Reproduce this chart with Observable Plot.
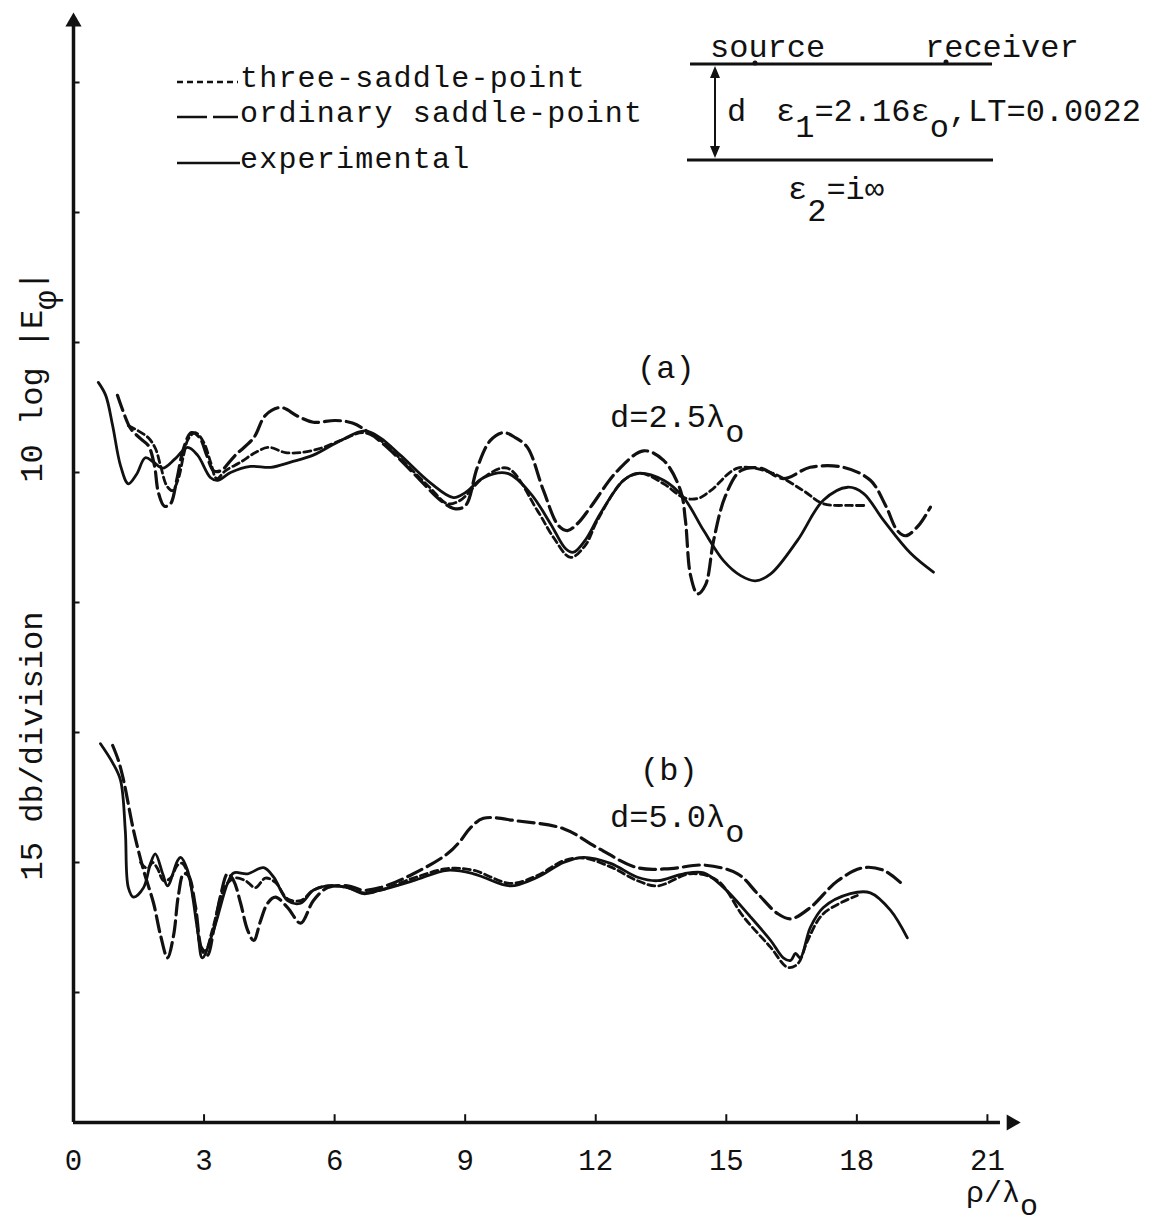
<!DOCTYPE html>
<html><head><meta charset="utf-8">
<script src="https://cdn.jsdelivr.net/npm/d3@7"></script>
<script src="https://cdn.jsdelivr.net/npm/@observablehq/plot@0.6"></script>
<style>body{margin:0;background:#fff;} svg{display:block}</style>
</head><body><div id="chart"></div>
<script>
// x: rho/lambda_o ; y: 10 log|E_phi| in dB (15 dB per division, arbitrary zero at x axis)
const xTicks = [0, 3, 6, 9, 12, 15, 18, 21];
const yTicks = [15, 30, 45, 60, 75, 90, 105, 120];
const seriesNames = ["three-saddle-point", "ordinary saddle-point", "experimental"];

// ---- panel (a) d = 2.5 lambda_o ----
const aExperimental = [[0.57,85.4],[0.74,83.9],[0.90,80.4],[1.08,75.8],[1.26,73.7],[1.45,74.8],[1.65,76.7],[1.84,76.2],[2.05,75.5],[2.34,76.6],[2.62,77.9],[2.85,77.0],[3.15,74.4],[3.31,74.1],[3.61,75.0],[4.07,75.7],[4.53,75.6],[4.99,76.2],[5.51,77.0],[6.14,78.7],[6.69,79.8],[7.05,79.0],[7.51,77.0],[8.20,73.8],[8.73,72.1],[9.01,72.7],[9.42,74.4],[9.97,74.9],[10.50,72.6],[10.96,69.1],[11.31,66.2],[11.49,65.8],[11.76,67.2],[12.11,70.3],[12.64,74.1],[12.96,74.9],[13.56,74.1],[14.02,72.1],[14.48,68.3],[14.94,64.8],[15.33,63.1],[15.67,62.5],[16.02,63.3],[16.64,67.2],[17.23,71.8],[17.79,73.3],[18.15,72.6],[18.61,69.5],[19.23,65.7],[19.76,63.5]];
const aOrdinary = [[1.01,83.9],[1.13,82.2],[1.31,80.1],[1.54,78.9],[1.72,78.1],[1.86,75.8],[1.95,72.7],[2.09,71.1],[2.23,71.4],[2.37,74.1],[2.53,77.8],[2.71,79.6],[2.90,79.0],[3.06,77.0],[3.22,75.2],[3.38,75.2],[3.72,77.0],[4.14,79.0],[4.41,81.6],[4.76,82.5],[5.15,81.5],[5.51,80.8],[6.02,81.0],[6.41,80.7],[6.82,79.5],[7.40,77.0],[7.97,74.1],[8.43,71.8],[8.78,70.8],[9.01,71.2],[9.28,75.6],[9.58,78.7],[9.88,79.6],[10.16,79.0],[10.43,77.9],[10.80,72.9],[11.14,68.9],[11.35,68.3],[11.60,69.2],[11.88,71.0],[12.50,75.2],[13.10,77.5],[13.56,76.4],[13.95,72.9],[14.06,69.5],[14.18,63.1],[14.34,61.0],[14.52,62.0],[14.71,67.2],[14.98,72.3],[15.33,75.2],[15.79,75.5],[16.31,74.3],[16.93,75.6],[17.69,75.6],[18.31,74.1],[18.66,71.2],[18.93,68.3],[19.12,67.7],[19.42,68.9],[19.69,71.0]];
const aThree = [[1.26,80.4],[1.49,79.8],[1.72,79.0],[1.88,77.8],[2.00,75.8],[2.14,73.5],[2.27,72.9],[2.41,74.3],[2.53,77.0],[2.64,78.9],[2.80,79.6],[2.99,78.5],[3.15,76.2],[3.29,74.3],[3.49,75.2],[3.84,76.2],[4.18,77.3],[4.48,77.9],[4.87,77.3],[5.22,77.3],[5.68,77.8],[6.14,78.7],[6.66,79.6],[7.05,78.7],[7.51,76.6],[8.20,73.2],[8.59,71.4],[8.89,71.8],[9.42,74.4],[9.97,75.5],[10.66,70.6],[11.03,67.5],[11.42,65.2],[11.76,66.6],[12.04,69.5],[12.64,74.1],[13.03,74.9],[13.56,73.7],[14.02,72.1],[14.34,72.0],[14.64,72.9],[15.26,75.5],[16.02,75.0],[16.77,72.9],[17.23,71.4],[17.85,71.2],[18.24,71.2]];

// ---- panel (b) d = 5.0 lambda_o ----
const bExperimental = [[0.62,43.7],[0.90,41.5],[1.08,39.5],[1.19,33.7],[1.26,27.1],[1.38,26.0],[1.61,27.1],[1.77,29.9],[1.88,31.0],[2.05,28.7],[2.16,27.3],[2.39,30.2],[2.46,30.6],[2.62,29.1],[2.85,22.2],[2.96,19.0],[3.22,22.2],[3.54,27.6],[3.68,28.8],[4.00,28.7],[4.37,29.4],[4.60,28.3],[4.92,25.6],[5.22,25.3],[5.51,26.8],[5.84,27.3],[6.30,27.1],[6.66,26.4],[7.05,26.8],[7.81,27.9],[8.59,29.1],[9.19,28.7],[9.42,28.3],[10.04,27.3],[10.66,28.3],[11.26,30.0],[11.72,30.6],[12.34,29.9],[12.96,28.3],[13.42,27.9],[14.02,28.7],[14.48,28.8],[14.94,27.1],[15.56,23.7],[16.02,21.0],[16.31,19.0],[16.48,18.7],[16.59,19.5],[16.70,19.0],[16.93,22.5],[17.23,24.8],[17.85,26.4],[18.31,26.5],[18.77,24.5],[19.16,21.3]];
const bOrdinary = [[0.90,43.5],[1.03,41.8],[1.15,39.5],[1.38,33.7],[1.61,29.1],[1.84,25.3],[2.00,21.6],[2.16,19.0],[2.30,21.6],[2.41,26.2],[2.53,28.7],[2.64,28.5],[2.80,25.0],[2.96,19.8],[3.08,19.3],[3.22,22.2],[3.38,26.2],[3.54,28.7],[3.68,27.9],[3.84,25.3],[4.00,22.2],[4.14,21.0],[4.30,23.3],[4.46,25.3],[4.64,26.0],[4.92,24.8],[5.22,23.0],[5.51,25.6],[5.84,27.1],[6.30,27.3],[6.66,26.8],[7.05,27.1],[7.81,28.7],[8.59,31.0],[8.89,32.5],[9.12,34.0],[9.42,35.1],[10.20,34.8],[11.26,33.9],[12.04,31.7],[12.96,29.4],[13.72,29.3],[14.48,29.7],[15.26,28.7],[15.72,26.4],[16.18,24.1],[16.48,23.5],[16.93,24.8],[17.56,27.9],[18.15,29.4],[18.61,29.1],[19.00,27.7]];
const bThree = [[1.54,30.0],[1.70,29.3],[1.82,30.0],[1.93,29.3],[2.07,27.9],[2.23,28.2],[2.39,29.7],[2.50,29.9],[2.64,28.5],[2.80,24.5],[2.92,20.4],[3.03,19.8],[3.19,22.2],[3.49,27.3],[3.72,28.2],[3.95,27.9],[4.18,27.1],[4.41,28.2],[4.64,27.7],[4.92,25.8],[5.22,25.6],[5.51,26.8],[5.84,27.3],[6.30,27.1],[6.66,26.5],[7.05,26.8],[7.81,28.2],[8.59,29.3],[9.19,29.1],[10.04,27.6],[10.66,28.5],[11.26,30.2],[11.72,30.5],[12.34,29.5],[12.96,27.9],[13.42,27.3],[14.18,28.7],[14.80,27.9],[15.40,23.7],[16.02,20.2],[16.41,17.9],[16.64,18.3],[16.87,21.0],[17.23,24.1],[18.01,26.2]];

const FONT = "'Liberation Mono', 'Courier New', monospace";
const rows = [];
function add(panel, series, pts) { pts.forEach(([x, y]) => rows.push({panel, series, x, y})); }
add("a", seriesNames[2], aExperimental); add("a", seriesNames[1], aOrdinary); add("a", seriesNames[0], aThree);
add("b", seriesNames[2], bExperimental); add("b", seriesNames[1], bOrdinary); add("b", seriesNames[0], bThree);
const bySeries = s => rows.filter(r => r.series === s);

const plot = Plot.plot({
  width: 1171, height: 1224,
  marginLeft: 73, marginRight: 10, marginTop: 4, marginBottom: 102,
  x: {domain: [0, 25], axis: null},
  y: {domain: [0, 129], axis: null},
  style: {fontFamily: FONT, background: "white"},
  marks: [
    Plot.line(bySeries(seriesNames[2]), {x: "x", y: "y", z: "panel", curve: "catmull-rom", stroke: "#111", strokeWidth: 2.8}),
    Plot.line(bySeries(seriesNames[1]), {x: "x", y: "y", z: "panel", curve: "catmull-rom", stroke: "#111", strokeWidth: 3.2, strokeDasharray: "16,6"}),
    Plot.line(bySeries(seriesNames[0]), {x: "x", y: "y", z: "panel", curve: "catmull-rom", stroke: "#111", strokeWidth: 2.8, strokeDasharray: "7,4"}),
    // axes
    Plot.ruleX([0], {y1: 0, y2: 126.5, stroke: "#111", strokeWidth: 3.5}),
    Plot.ruleY([0], {x1: 0, x2: 21.3, stroke: "#111", strokeWidth: 3.5}),
    Plot.dot([[0, 127]], {x: d => d[0], y: d => d[1], symbol: "triangle", r: 6, fill: "#111", stroke: "none"}),
    Plot.dot([[21.55, 0]], {x: d => d[0], y: d => d[1], symbol: "triangle", r: 6, fill: "#111", stroke: "none", rotate: 90}),
    Plot.ruleY(yTicks, {x1: 0, x2: 0.15, stroke: "#111", strokeWidth: 2}),
    Plot.ruleX(xTicks.slice(1), {y1: 0, y2: 0.9, stroke: "#111", strokeWidth: 2}),
    Plot.text(xTicks, {x: d => d, y: 0, dy: 38, text: d => String(d), fontSize: 29, fill: "#111", fontFamily: FONT})
  ]
});
document.getElementById("chart").appendChild(plot);

// ---- annotations (legend, schematic, labels) ----
const svg = d3.select(plot);
const g = svg.append("g").attr("font-family", FONT).attr("font-size", 32).attr("fill", "#111").attr("text-anchor", "start");
function label(x, y, parts, attrs = {}) {
  const t = g.append("text").attr("x", x).attr("y", y).attr("text-anchor", "start");
  Object.entries(attrs).forEach(([k, v]) => t.attr(k, v));
  let shift = 0;
  parts.forEach(p => {
    const [s, sub] = Array.isArray(p) ? p : [p, 0];
    t.append("tspan").attr("dy", sub - shift).text(s);
    shift = sub;
  });
  return t;
}
// legend
g.append("line").attr("x1", 177).attr("x2", 238).attr("y1", 82).attr("y2", 82).attr("stroke", "#111").attr("stroke-width", 2.4).attr("stroke-dasharray", "6,4");
g.append("line").attr("x1", 177).attr("x2", 238).attr("y1", 117).attr("y2", 117).attr("stroke", "#111").attr("stroke-width", 2.6).attr("stroke-dasharray", "30,6");
g.append("line").attr("x1", 177).attr("x2", 240).attr("y1", 163).attr("y2", 163).attr("stroke", "#111").attr("stroke-width", 2.4);
const legendAttrs = {"font-size": 30, "letter-spacing": 1.2};
label(240, 87, [seriesNames[0]], legendAttrs);
label(240, 122, [seriesNames[1]], legendAttrs);
label(240, 168, [seriesNames[2]], legendAttrs);
// schematic
g.append("line").attr("x1", 690).attr("x2", 992).attr("y1", 64).attr("y2", 64).attr("stroke", "#111").attr("stroke-width", 3);
g.append("line").attr("x1", 687).attr("x2", 993).attr("y1", 160).attr("y2", 160).attr("stroke", "#111").attr("stroke-width", 3);
g.append("circle").attr("cx", 755).attr("cy", 63).attr("r", 2.5);
g.append("circle").attr("cx", 946).attr("cy", 62).attr("r", 2.5);
g.append("line").attr("x1", 715).attr("x2", 715).attr("y1", 70).attr("y2", 154).attr("stroke", "#111").attr("stroke-width", 2);
g.append("path").attr("d", "M715,66 L710,78 L720,78 Z");
g.append("path").attr("d", "M715,158 L710,146 L720,146 Z");
label(710, 57, ["source"]);
label(925, 57, ["receiver"]);
label(727, 121, ["d"]);
label(776, 121, ["ε", ["1", 16], "=2.16ε", ["o", 16], ",LT=0.0022"]);
label(788, 199, ["ε", ["2", 22], "=i∞"]);
// panel labels
label(637, 378, ["(a)"]);
label(610, 427, ["d=2.5λ", ["o", 15]]);
label(640, 780, ["(b)"]);
label(610, 827, ["d=5.0λ", ["o", 15]]);
// y label (rotated)
label(0, 0, ["10 log |E", ["φ", 14], "|"], {transform: "translate(42,377) rotate(-90)", "text-anchor": "middle"});
label(0, 0, ["15 db/division"], {transform: "translate(42,746) rotate(-90)", "text-anchor": "middle"});
// x label
label(966, 1202, ["ρ/λ", ["o", 13]], {"font-size": 30});
</script>
</body></html>
